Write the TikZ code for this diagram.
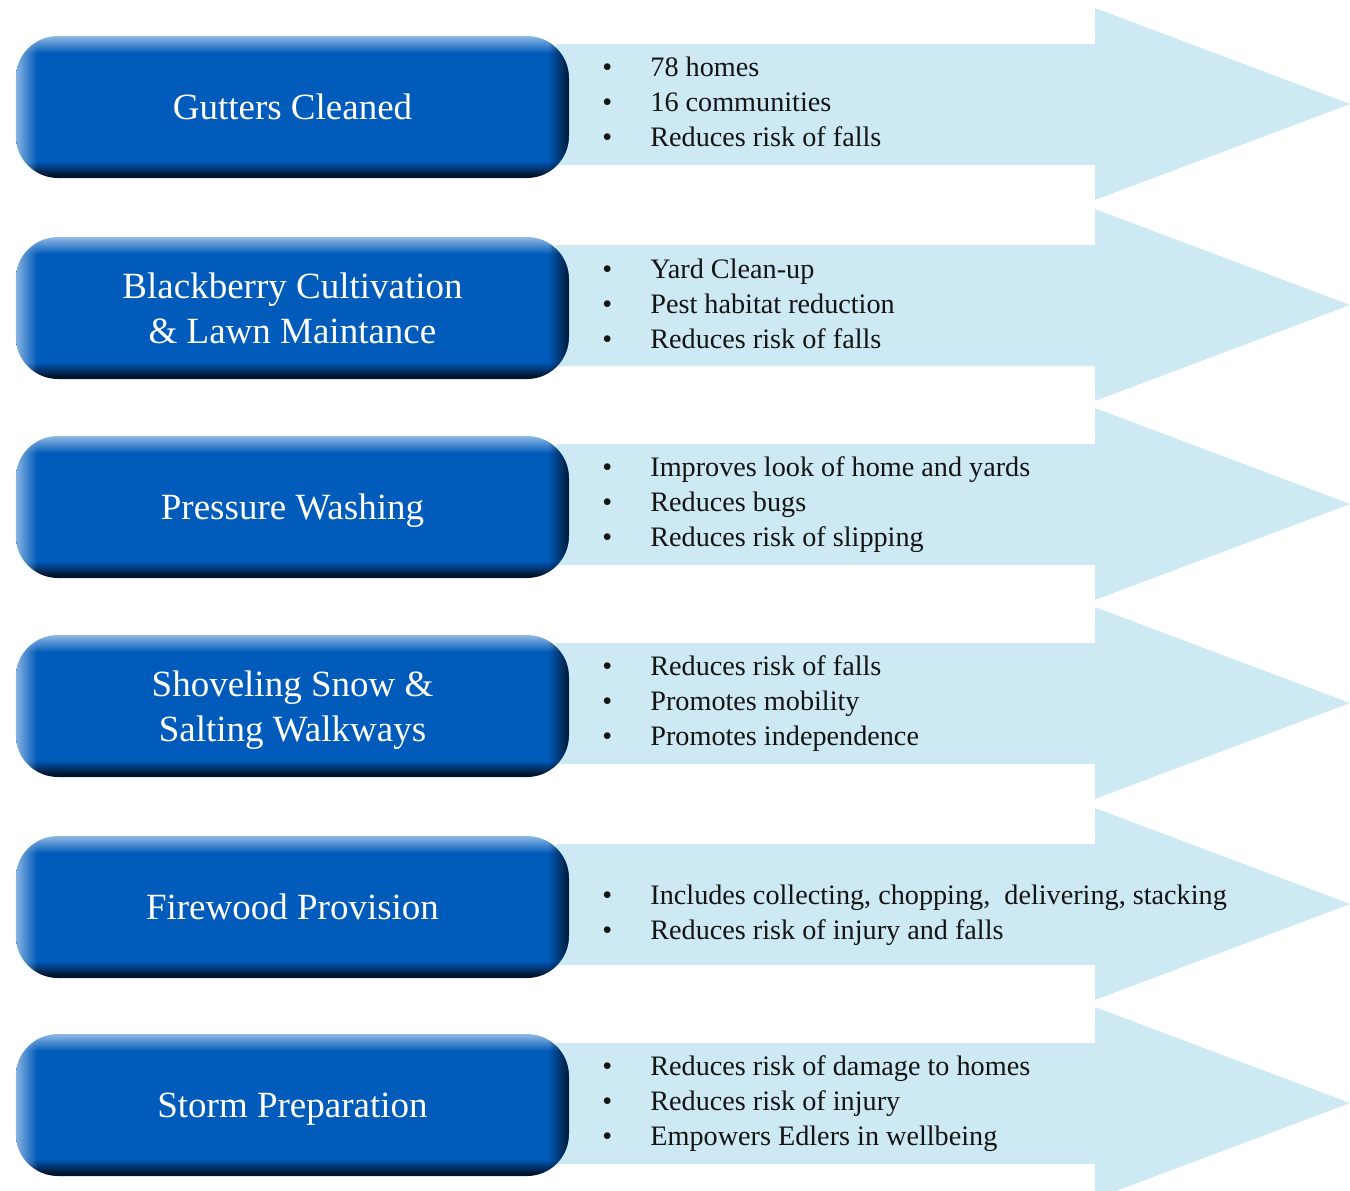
\documentclass[tikz,border=0pt]{standalone}
\usepackage{fontspec}
\setmainfont{Liberation Serif}
\usetikzlibrary{fadings}

\definecolor{pillblue}{RGB}{0,91,187}
\definecolor{pilldark}{RGB}{0,20,45}
\definecolor{pilllight}{RGB}{145,185,228}
\definecolor{arrowblue}{RGB}{205,233,244}
\definecolor{bullettext}{RGB}{20,20,20}

% the part from 25bp to 75bp is the one fitted to the box
\pgfdeclareverticalshading{pillshade}{100bp}{color(0bp)=(pilldark); color(25bp)=(pilldark); color(26bp)=(pilldark); color(31bp)=(pillblue); color(69bp)=(pillblue); color(75bp)=(pilllight); color(100bp)=(pilllight)}

\begin{tikzfadingfrompicture}[name=sidefade]
  \fill[transparent!100] (-50bp,-50bp) rectangle (50bp,50bp);
  \fill[transparent!0] (-50bp,-50bp) rectangle (-25bp,50bp);
  \fill[transparent!0] (25bp,-50bp) rectangle (50bp,50bp);
  \shade[left color=transparent!0,right color=transparent!100] (-25bp,-50bp) rectangle (-23bp,50bp);
  \shade[left color=transparent!100,right color=transparent!0] (23bp,-50bp) rectangle (25bp,50bp);
\end{tikzfadingfrompicture}

\newcommand{\itm}{\makebox[24pt][l]{\textbullet}}

\begin{document}
\begin{tikzpicture}[x=0.5pt,y=0.5pt,
  pill/.style={rectangle,rounded corners=21pt,shade,shading=pillshade,
    minimum width=276.5pt,minimum height=71pt,inner sep=0pt,text depth=0pt,
    text=white,align=center,font=\fontsize{18.5}{22.5}\selectfont,
    postaction={path fading=sidefade,left color=pilllight,right color=pilldark}},
  points/.style={anchor=west,inner sep=0pt,align=left,text depth=0pt,text=bullettext,
    font=\fontsize{14.1}{17.5}\selectfont}]
  \useasboundingbox (0,0) rectangle (1350,-1190);

  % arrows behind the boxes
  \fill[arrowblue] (556,-44) -- (1095,-44) -- (1095,-8) -- (1350,-104) -- (1095,-200) -- (1095,-165) -- (556,-165) -- cycle;
  \fill[arrowblue] (556,-245) -- (1095,-245) -- (1095,-209) -- (1350,-305) -- (1095,-401) -- (1095,-366) -- (556,-366) -- cycle;
  \fill[arrowblue] (556,-444) -- (1095,-444) -- (1095,-408) -- (1350,-504) -- (1095,-600) -- (1095,-565) -- (556,-565) -- cycle;
  \fill[arrowblue] (556,-643) -- (1095,-643) -- (1095,-607) -- (1350,-703) -- (1095,-799) -- (1095,-764) -- (556,-764) -- cycle;
  \fill[arrowblue] (556,-844) -- (1095,-844) -- (1095,-808) -- (1350,-904) -- (1095,-1000) -- (1095,-965) -- (556,-965) -- cycle;
  \fill[arrowblue] (556,-1043) -- (1095,-1043) -- (1095,-1007) -- (1350,-1103) -- (1095,-1199) -- (1095,-1164) -- (556,-1164) -- cycle;

  % service boxes
  \node (GUTT) at (292.5,-107) [pill] {Gutters Cleaned};
  \node (BLCK) at (292.5,-308) [pill] {Blackberry Cultivation\\\& Lawn Maintance};
  \node (PRES) at (292.5,-507) [pill] {Pressure Washing};
  \node (SNOW) at (292.5,-706) [pill] {Shoveling Snow \&\\Salting Walkways};
  \node (FIRE) at (292.5,-907) [pill] {Firewood Provision};
  \node (STRM) at (292.5,-1105) [pill] {Storm Preparation};

  % benefits
  \node (GUTTB) at (602,-102) [points] {\itm 78 homes\\\itm 16 communities\\\itm Reduces risk of falls};
  \node (BLCKB) at (602,-304) [points] {\itm Yard Clean-up\\\itm Pest habitat reduction\\\itm Reduces risk of falls};
  \node (PRESB) at (602,-502) [points] {\itm Improves look of home and yards\\\itm Reduces bugs\\\itm Reduces risk of slipping};
  \node (SNOWB) at (602,-701) [points] {\itm Reduces risk of falls\\\itm Promotes mobility\\\itm Promotes independence};
  \node (FIREB) at (602,-912) [points] {\itm Includes collecting, chopping,\ \ delivering, stacking\\\itm Reduces risk of injury and falls};
  \node (STRMB) at (602,-1101) [points] {\itm Reduces risk of damage to homes\\\itm Reduces risk of injury\\\itm Empowers Edlers in wellbeing};

\end{tikzpicture}
\end{document}
